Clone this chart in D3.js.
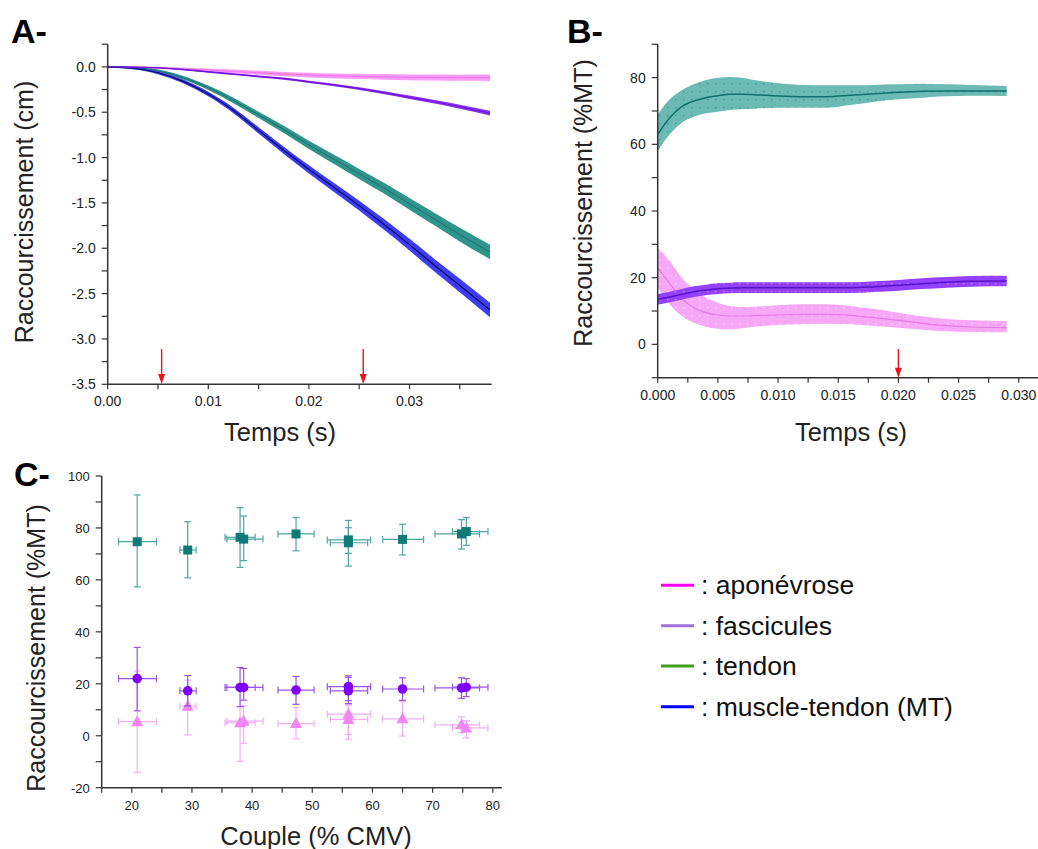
<!DOCTYPE html>
<html><head><meta charset="utf-8">
<script src="https://cdn.jsdelivr.net/npm/d3@7"></script>
<style>body{margin:0;background:#fff}svg{display:block}text{font-family:"Liberation Sans",Arial,sans-serif;fill:#222}</style>
</head><body><svg id="c" width="1038" height="849"></svg>
<script>
// ---------- Panel A data (cm) ----------
const tA = [0,0.0025,0.005,0.0075,0.01,0.0125,0.015,0.0175,0.02,0.0225,0.025,0.0275,0.03,0.0325,0.035,0.038];
const aMT   = [0,-0.015,-0.065,-0.16,-0.30,-0.48,-0.70,-0.92,-1.13,-1.33,-1.53,-1.74,-1.96,-2.19,-2.41,-2.68];
const aMTsd = [0.01,0.01,0.015,0.02,0.025,0.03,0.035,0.04,0.045,0.05,0.055,0.06,0.065,0.07,0.075,0.08];
const aTen  = [0,-0.01,-0.045,-0.12,-0.23,-0.37,-0.53,-0.69,-0.86,-1.02,-1.18,-1.34,-1.51,-1.68,-1.85,-2.04];
const aTensd= [0.01,0.01,0.015,0.02,0.025,0.03,0.035,0.04,0.045,0.05,0.055,0.06,0.065,0.07,0.075,0.08];
const aFas  = [0,-0.003,-0.01,-0.03,-0.055,-0.08,-0.105,-0.13,-0.165,-0.20,-0.24,-0.285,-0.335,-0.385,-0.44,-0.51];
const aFassd= [0.005,0.006,0.007,0.008,0.009,0.01,0.011,0.012,0.013,0.014,0.015,0.016,0.018,0.02,0.022,0.025];
const aApo  = [0,-0.005,-0.012,-0.022,-0.035,-0.05,-0.065,-0.08,-0.09,-0.10,-0.105,-0.11,-0.115,-0.118,-0.12,-0.12];
const aAposd= [0.005,0.008,0.012,0.015,0.018,0.02,0.022,0.024,0.026,0.028,0.03,0.031,0.032,0.033,0.034,0.035];
const arrowsA = [0.00536, 0.0254];
const ticksAy = [-3.5,-3.0,-2.5,-2.0,-1.5,-1.0,-0.5,0.0];
const ticksAx = [0,0.01,0.02,0.03];

// ---------- Panel B data (%MT) ----------
const tB = [0,0.001,0.002,0.003,0.004,0.005,0.006,0.007,0.008,0.010,0.012,0.014,0.016,0.018,0.020,0.022,0.024,0.026,0.029];
const bTen   = [63,68,71.3,73,74,74.6,75,75,74.9,74.5,74.3,74.3,74.7,75.2,75.6,75.9,76,76,76];
const bTenLo = [58,63,66.5,68.3,69.3,69.8,70.3,70.5,70.7,71,71,71,71.8,72.8,73.5,74,74.4,74.6,74.5];
const bTenHi = [69,73.5,76.2,78,79.3,80,80.2,80,79.3,78.3,77.8,77.7,77.7,77.8,78,78.2,78,77.8,77.5];
const bFas   = [13.5,14.2,15,15.8,16.3,16.7,16.9,17,17,17,17,17,17,17.3,17.7,18.2,18.6,18.9,19];
const bFasLo = [11.9,12.6,13.4,14.2,14.7,15.1,15.3,15.4,15.4,15.4,15.4,15.4,15.4,15.7,16.1,16.6,17,17.3,17.4];
const bFasHi = [15.1,15.8,16.6,17.4,17.9,18.3,18.5,18.6,18.6,18.6,18.6,18.6,18.6,18.9,19.3,19.8,20.2,20.5,20.6];
const bApo   = [23,18.2,13.8,11,9.5,8.8,8.5,8.5,8.6,8.8,9,9,8.7,8,7.2,6.3,5.6,5.2,5];
const bApoLo = [17,12,8.5,6.5,5.3,4.7,4.5,4.8,5.3,5.8,6,6.2,6,5.5,5,4.4,3.9,3.7,3.6];
const bApoHi = [29,25,20,16.5,14,12.5,11.5,11.2,11.3,11.7,12,12,11.5,10.6,9.5,8.4,7.6,7.2,7];
const arrowsB = [0.020];
const ticksBy = [0,20,40,60,80];
const ticksBx = [0,0.005,0.010,0.015,0.020,0.025,0.030];

// ---------- Panel C data ----------
const cX    = [20.9,29.3,38.0,38.6,47.3,56.0,56.0,65.0,74.8,75.6];
const cXlo  = [17.8,28.0,35.5,35.8,44.3,52.5,53.0,61.7,70.4,73.3];
const cXhi  = [24.1,30.7,40.5,41.8,50.3,59.7,59.2,68.5,77.8,79.2];
const cTen   = [74.7,71.5,76.4,75.7,77.7,75.4,74.3,75.6,77.7,78.6];
const cTenLo = [57.3,60.8,64.8,67.4,71.2,65.3,70.2,69.6,71.9,73.3];
const cTenHi = [92.7,82.4,87.8,84.6,84.0,82.9,80.1,81.4,83.2,84.0];
const cFas   = [22.0,17.3,18.6,18.6,17.6,18.9,17.3,18.0,18.4,18.7];
const cFasLo = [9.6,11.5,11.2,13.7,12.1,13.5,12.4,13.6,14.4,15.1];
const cFasHi = [34.0,23.2,26.3,25.9,22.8,23.1,22.5,22.3,22.3,22.0];
const cApo   = [5.4,11.4,5.0,5.6,4.7,8.3,6.3,6.5,4.2,3.0];
const cApoLo = [-14.1,0.3,-9.8,-2.9,-1.2,-1.3,0.5,-0.1,1.2,-0.8];
const cApoHi = [24.9,21.4,11.3,11.5,10.8,11.8,12.0,13.1,7.3,5.8];
const ticksCy = [-20,0,20,40,60,80,100];
const ticksCx = [20,30,40,50,60,70,80];

// ---------- Legend ----------
const legLabels = [": aponévrose", ": fascicules", ": tendon", ": muscle-tendon (MT)"];
const legColors = ["#ff00ff", "#a070d8", "#3f9f1f", "#0000ff"];

const svg = d3.select("#c");
const defs = svg.append("defs");
function dots(id, bg, dot, op){
  const p = defs.append("pattern").attr("id", id).attr("width", 8).attr("height", 8).attr("patternUnits","userSpaceOnUse");
  p.append("rect").attr("width",8).attr("height",8).attr("fill",bg).attr("opacity",op);
  p.append("rect").attr("x",3).attr("y",3).attr("width",1.3).attr("height",1.3).attr("fill",dot);
}
dots("pTen","#6cbab4","#3d8f89",1);
dots("pFas","#9441ff","#b98aff",1);
dots("pApo","#f6a8f6","#fbd6fb",1);

const hy = s => s.replace("\u2212","-");
const AX = "#333";

function drawAxes(g, x, y, xt, yt, xminor, yminor, xfmt, yfmt, fs){
  const [x0,x1] = x.range(), [y0,y1] = y.range();
  g.append("line").attr("x1",x0).attr("x2",x1).attr("y1",y0).attr("y2",y0).attr("stroke",AX).attr("stroke-width",1.5);
  g.append("line").attr("x1",x0).attr("x2",x0).attr("y1",y0).attr("y2",y1).attr("stroke",AX).attr("stroke-width",1.5);
  xminor.concat(xt).forEach(v=>{
    g.append("line").attr("x1",x(v)).attr("x2",x(v)).attr("y1",y0).attr("y2",y0+5).attr("stroke",AX).attr("stroke-width",1.2);
  });
  yminor.concat(yt).forEach(v=>{
    g.append("line").attr("x1",x0-6).attr("x2",x0).attr("y1",y(v)).attr("y2",y(v)).attr("stroke",AX).attr("stroke-width",1.2);
  });
  xt.forEach(v=>g.append("text").attr("x",x(v)).attr("y",y0+22).attr("text-anchor","middle").attr("font-size",fs).text(hy(xfmt(v))));
  yt.forEach(v=>g.append("text").attr("x",x0-12).attr("y",y(v)+5).attr("text-anchor","end").attr("font-size",fs).text(hy(yfmt(v))));
}
function arrow(g, xp, yTop, yBot){
  g.append("line").attr("x1",xp).attr("x2",xp).attr("y1",yTop).attr("y2",yBot-8).attr("stroke","#e8141c").attr("stroke-width",1.4);
  g.append("path").attr("d",`M${xp-3.5},${yBot-10}L${xp+3.5},${yBot-10}L${xp},${yBot}Z`).attr("fill","#e8141c");
}
function band(g, x, y, t, lo, hi, fill, op){
  const a = d3.area().x((d,i)=>x(t[i])).y0((d,i)=>y(lo[i])).y1((d,i)=>y(hi[i])).curve(d3.curveMonotoneX);
  g.append("path").attr("d",a(t)).attr("fill",fill).attr("opacity",op);
}
function line(g, x, y, t, m, col, w){
  const l = d3.line().x((d,i)=>x(t[i])).y((d,i)=>y(m[i])).curve(d3.curveMonotoneX);
  g.append("path").attr("d",l(t)).attr("fill","none").attr("stroke",col).attr("stroke-width",w);
}

// ---------- Panel A ----------
{
  const g = svg.append("g");
  const x = d3.scaleLinear().domain([0,0.03817]).range([107.7,491.7]);
  const y = d3.scaleLinear().domain([-3.5,0.25]).range([384.3,44.2]);
  const lo = (m,s)=>m.map((v,i)=>v-s[i]), hi=(m,s)=>m.map((v,i)=>v+s[i]);
  band(g,x,y,tA,lo(aApo,aAposd),hi(aApo,aAposd),"#f79cf7",1);
  line(g,x,y,tA,aApo,"#f070f0",1);
  band(g,x,y,tA,lo(aTen,aTensd),hi(aTen,aTensd),"#2f958c",1);
  line(g,x,y,tA,aTen,"#1d6f69",1);
  band(g,x,y,tA,lo(aMT,aMTsd),hi(aMT,aMTsd),"#3c3cf2",1);
  line(g,x,y,tA,aMT,"#0a0a60",1.2);
  band(g,x,y,tA,lo(aFas,aFassd),hi(aFas,aFassd),"#8a30f0",1);
  line(g,x,y,tA,aFas,"#6a10d8",1);
  drawAxes(g,x,y,ticksAx,ticksAy,[0.005,0.015,0.025,0.035],[-3.25,-2.75,-2.25,-1.75,-1.25,-0.75,-0.25,0.25],d3.format(".2f"),d3.format(".1f"),14);
  arrowsA.forEach(v=>arrow(g,x(v),349,384));
  g.append("text").attr("x",280).attr("y",441).attr("text-anchor","middle").attr("font-size",25.5).text("Temps (s)");
  g.append("text").attr("transform","translate(33,212) rotate(-90)").attr("text-anchor","middle").attr("font-size",25).text("Raccourcissement (cm)");
  g.append("text").attr("x",11).attr("y",43).attr("font-size",34).attr("font-weight","bold").style("fill","#000").text("A-");
}

// ---------- Panel B ----------
{
  const g = svg.append("g");
  const x = d3.scaleLinear().domain([0,0.0316]).range([657.7,1038]);
  const y = d3.scaleLinear().domain([-10,90]).range([377.7,44.3]);
  band(g,x,y,tB,bTenLo,bTenHi,"url(#pTen)",1);
  line(g,x,y,tB,bTen,"#0f6f6a",1.5);
  band(g,x,y,tB,bApoLo,bApoHi,"url(#pApo)",1);
  line(g,x,y,tB,bApo,"#e47ae4",1.2);
  band(g,x,y,tB,bFasLo,bFasHi,"url(#pFas)",1);
  line(g,x,y,tB,bFas,"#5a10c8",1.5);
  drawAxes(g,x,y,ticksBx,ticksBy,[0.0025,0.0075,0.0125,0.0175,0.0225,0.0275],[-10,10,30,50,70,90],d3.format(".3f"),d3.format("d"),14);
  arrowsB.forEach(v=>arrow(g,x(v),349,377.7));
  g.append("text").attr("x",851).attr("y",441).attr("text-anchor","middle").attr("font-size",25.5).text("Temps (s)");
  g.append("text").attr("transform","translate(592,203) rotate(-90)").attr("text-anchor","middle").attr("font-size",25).text("Raccourcissement (%MT)");
  g.append("text").attr("x",567).attr("y",43).attr("font-size",34).attr("font-weight","bold").style("fill","#000").text("B-");
}

// ---------- Panel C ----------
{
  const g = svg.append("g");
  const x = d3.scaleLinear().domain([15,81.5]).range([101.7,501.8]);
  const y = d3.scaleLinear().domain([-20,100]).range([787.7,476]);
  drawAxes(g,x,y,ticksCx,ticksCy,[15,25,35,45,55,65,75],[-10,10,30,50,70,90],d3.format("d"),d3.format("d"),13);
  function series(m, lo, hi, errCol, markCol, shape){
    const cap = 3.5;
    cX.forEach((xv,i)=>{
      const px = x(xv), py = y(m[i]);
      g.append("line").attr("x1",px).attr("x2",px).attr("y1",y(lo[i])).attr("y2",y(hi[i])).attr("stroke",errCol).attr("stroke-width",1.2);
      [lo[i],hi[i]].forEach(v=>g.append("line").attr("x1",px-cap).attr("x2",px+cap).attr("y1",y(v)).attr("y2",y(v)).attr("stroke",errCol).attr("stroke-width",1.2));
      g.append("line").attr("x1",x(cXlo[i])).attr("x2",x(cXhi[i])).attr("y1",py).attr("y2",py).attr("stroke",errCol).attr("stroke-width",1.2);
      [cXlo[i],cXhi[i]].forEach(v=>g.append("line").attr("x1",x(v)).attr("x2",x(v)).attr("y1",py-cap).attr("y2",py+cap).attr("stroke",errCol).attr("stroke-width",1.2));
    });
    cX.forEach((xv,i)=>{
      const px = x(xv), py = y(m[i]);
      if(shape==="sq") g.append("rect").attr("x",px-4.5).attr("y",py-4.5).attr("width",9).attr("height",9).attr("fill",markCol);
      else if(shape==="ci") g.append("circle").attr("cx",px).attr("cy",py).attr("r",4.8).attr("fill",markCol);
      else g.append("path").attr("d",`M${px},${py-6.5}L${px+6},${py+4.5}L${px-6},${py+4.5}Z`).attr("fill",markCol);
    });
  }
  series(cApo,cApoLo,cApoHi,"#f3aef3","#f286f2","tri");
  series(cFas,cFasLo,cFasHi,"#9a55e6","#7f00ff","ci");
  series(cTen,cTenLo,cTenHi,"#4fa6a1","#0e7b78","sq");
  g.append("text").attr("x",316).attr("y",845).attr("text-anchor","middle").attr("font-size",25.5).text("Couple (% CMV)");
  g.append("text").attr("transform","translate(45,648) rotate(-90)").attr("text-anchor","middle").attr("font-size",25).text("Raccourcissement (%MT)");
  g.append("text").attr("x",14).attr("y",486).attr("font-size",34).attr("font-weight","bold").style("fill","#000").text("C-");
}

// ---------- Legend ----------
{
  const g = svg.append("g");
  const ys = [585.3,625.7,666,706.7];
  legLabels.forEach((lab,i)=>{
    g.append("line").attr("x1",661).attr("x2",694).attr("y1",ys[i]).attr("y2",ys[i]).attr("stroke",legColors[i]).attr("stroke-width",3);
    g.append("text").attr("x",701).attr("y",ys[i]+9).attr("font-size",26.5).style("fill","#111").text(lab);
  });
}
</script></body></html>
